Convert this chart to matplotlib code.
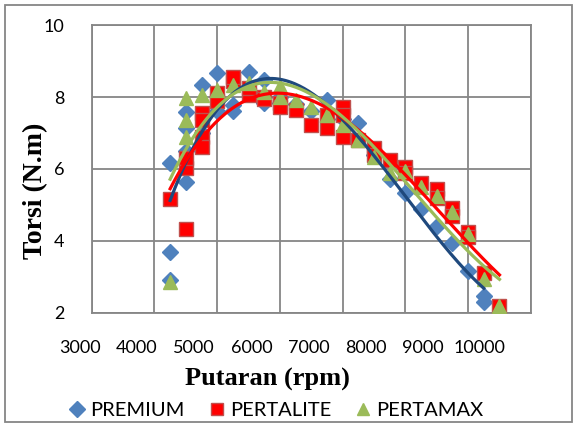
import matplotlib
matplotlib.use('Agg')
import matplotlib.pyplot as plt
import matplotlib.transforms as mtransforms
from matplotlib.lines import Line2D
from matplotlib.patches import Rectangle
import numpy as np

# Torque readings (rpm, N.m)
premium_rpm = [4250, 4250, 4250, 4500, 4500, 4500, 4500, 4750, 4750, 5000, 5000, 5250,
               5250, 5500, 5750, 5750, 6000, 6250, 6500, 6750, 7000, 7250, 7500, 7750,
               8000, 8250, 8500, 8750, 9000, 9250, 9250]
premium_tq = [6.16, 3.68, 2.92, 5.65, 7.14, 7.59, 6.50, 8.33, 7.00, 8.68, 7.60, 7.78,
              7.60, 8.70, 7.83, 8.47, 8.00, 7.80, 7.60, 7.92, 7.40, 7.27, 6.40, 5.72,
              5.32, 4.88, 4.40, 3.94, 3.17, 2.47, 2.30]

pertalite_rpm = [4250, 4500, 4500, 4500, 4750, 4750, 4750, 4750, 5000, 5000, 5250, 5250,
                 5500, 5500, 5750, 5750, 6000, 6000, 6250, 6500, 6750, 6750, 7000, 7000,
                 7000, 7250, 7500, 7500, 7750, 8000, 8000, 8250, 8500, 8500, 8750, 8750,
                 9000, 9000, 9250, 9500]
pertalite_tq = [5.17, 4.33, 6.02, 6.30, 7.56, 7.36, 6.90, 6.60, 8.10, 7.90, 8.45, 8.56,
                8.06, 8.25, 8.00, 7.95, 7.83, 7.73, 7.64, 7.22, 7.13, 7.50, 7.73, 7.50,
                6.90, 6.80, 6.57, 6.40, 6.25, 6.05, 5.90, 5.62, 5.45, 5.20, 4.90, 4.70,
                4.26, 4.12, 3.10, 2.20]

pertamax_rpm = [4250, 4500, 4500, 4500, 4750, 5000, 5250, 5500, 5750, 6000, 6000, 6250,
                6500, 6750, 7000, 7250, 7500, 7750, 8000, 8250, 8500, 8750, 9000, 9250,
                9500]
pertamax_tq = [2.85, 7.96, 7.36, 6.90, 8.06, 8.19, 8.33, 8.40, 8.15, 8.30, 8.01, 7.92,
               7.73, 7.50, 7.22, 6.80, 6.34, 5.90, 5.95, 5.50, 5.25, 4.80, 4.20, 2.94,
               2.20]

x_ticks = [3000, 4000, 5000, 6000, 7000, 8000, 9000, 10000]
y_ticks = [2, 4, 6, 8, 10]

grid_c = '#868686'
tick_font = 'Lato'

fig = plt.figure(figsize=(5.77, 4.25), dpi=100)
ax = fig.add_axes([0.159, 0.264, 0.761, 0.677])

series = [
    ('PREMIUM', premium_rpm, premium_tq, 'D', '#4F81BD', '#4F81BD', '#1F497D', 8),
    ('PERTALITE', pertalite_rpm, pertalite_tq, 's', '#FF0000', '#C0504D', '#FF0000', 9.5),
    ('PERTAMAX', pertamax_rpm, pertamax_tq, '^', '#9BBB59', '#9BBB59', '#9BBB59', 10),
]

handles = []
for name, xs, ys, mk, fc, ec, lc, ms in series:
    ax.plot(xs, ys, linestyle='none', marker=mk, markersize=ms,
            markerfacecolor=fc, markeredgecolor=ec, markeredgewidth=1, zorder=3)
    handles.append(Line2D([], [], linestyle='none', marker=mk, markersize=8,
                          markerfacecolor=fc, markeredgecolor=ec, label=name))

# polynomial trendlines (order 3), like the spreadsheet ones
for name, xs, ys, mk, fc, ec, lc, ms in series:
    coef = np.polyfit(xs, ys, 3)
    xx = np.linspace(min(xs), max(xs), 200)
    ax.plot(xx, np.polyval(coef, xx), color=lc, linewidth=2.3, zorder=4)

ax.set_xlim(3000, 10000)
ax.set_ylim(2, 10)
ax.set_xticks(x_ticks)
ax.set_yticks(y_ticks)
ax.grid(True, color=grid_c, linewidth=1.3)
ax.set_axisbelow(True)
for s in ax.spines.values():
    s.set_color(grid_c)
    s.set_linewidth(1.3)
ax.tick_params(length=0)
ax.set_xticklabels([])
ax.set_yticklabels([str(v) for v in y_ticks], fontsize=13, fontfamily=tick_font)
ax.tick_params(axis='y', pad=19.5)

# x tick labels sit a little compressed, as in the original export
trans = mtransforms.blended_transform_factory(ax.transAxes, fig.transFigure)
for t in x_ticks:
    fx = -0.027 + 0.911 * (t - 3000) / 7000
    ax.text(fx, 1 - 348 / 425, str(t), transform=trans, ha='center', va='center',
            fontsize=13, fontfamily=tick_font)

fig.text(0.463, 1 - 379 / 425, 'Putaran (rpm)', ha='center', va='center',
         fontsize=19, fontweight='bold', fontfamily='Liberation Serif')
fig.text(0.062, 1 - 191 / 425, 'Torsi (N.m)', rotation=90, ha='center', va='center',
         fontsize=20, fontweight='bold', fontfamily='Liberation Serif')

fig.legend(handles=handles, loc='center', bbox_to_anchor=(0.477, 1 - 410 / 425), ncol=3,
           frameon=False, prop={'family': tick_font, 'size': 14.5},
           handletextpad=0.15, columnspacing=1.1, handlelength=1.0)

fig.patches.append(Rectangle((0.008, 0.006), 0.984, 0.982, transform=fig.transFigure,
                             fill=False, edgecolor=grid_c, linewidth=1.3))

fig.savefig('out.png', dpi=100)
